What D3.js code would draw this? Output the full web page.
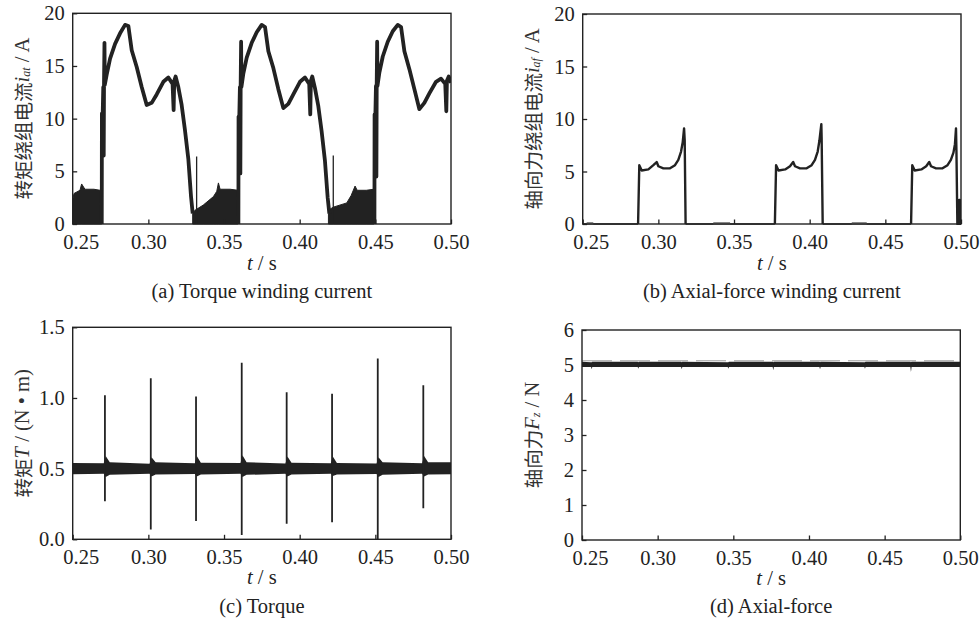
<!DOCTYPE html>
<html>
<head>
<meta charset="utf-8">
<script src="https://cdnjs.cloudflare.com/ajax/libs/d3/7.8.5/d3.min.js"></script>
<style>
body { margin: 0; background: #fff; }
</style>
</head>
<body>
<script>
var W = 980, H = 622;
var serif = "'Liberation Serif', 'Times New Roman', serif";
var cjk = "'Noto Sans CJK SC', sans-serif";
var ink = "#222";

// shared x ticks
var xTicks = [0.25, 0.30, 0.35, 0.40, 0.45, 0.50];

// (a) torque winding current, chopping regions (top envelope) and main waveform
var aChop1 = [[0.2500,2.3],[0.2509,2.9],[0.2548,3.2],[0.2559,3.8],[0.2581,3.3],[0.2640,3.3],[0.2681,3.2],[0.2692,3.3]];
var aChop2 = [[0.3293,1.0],[0.3308,1.3],[0.3363,1.8],[0.3430,2.6],[0.3452,3.1],[0.3463,3.9],[0.3474,3.3],[0.3540,3.3],[0.3592,3.2]];
var aChop3 = [[0.4190,1.0],[0.4200,1.4],[0.4222,1.6],[0.4311,2.0],[0.4340,2.7],[0.4366,3.6],[0.4380,3.2],[0.4440,3.2],[0.4491,3.3]];
var aCycle1 = [[0.2692,0],[0.2693,10.5],[0.2697,9.6],[0.2702,13.0],[0.2705,6.5],[0.2707,13.5],[0.2710,17.2],[0.2712,13.2],
  [0.2725,14.2],[0.2747,15.7],[0.2780,17.1],[0.2813,18.1],[0.2846,18.9],[0.2868,18.8],[0.2890,16.5],[0.2923,14.9],
  [0.2956,13.0],[0.2989,11.3],[0.3022,11.5],[0.3055,12.3],[0.3099,13.5],[0.3132,13.9],[0.3160,13.3],[0.3167,10.8],
  [0.3171,13.6],[0.3180,14.0],[0.3198,13.0],[0.3220,11.3],[0.3242,8.9],[0.3264,6.2],[0.3282,2.6],[0.3293,1.0]];
var aCycle2 = [[0.3595,0],[0.3596,10.2],[0.3600,9.5],[0.3605,13.0],[0.3608,4.8],[0.3610,13.2],[0.3613,17.3],[0.3615,13.0],
  [0.3628,14.3],[0.3650,15.8],[0.3683,17.2],[0.3716,18.2],[0.3749,18.9],[0.3771,18.7],[0.3793,16.4],[0.3826,14.8],
  [0.3859,12.8],[0.3892,11.0],[0.3925,11.4],[0.3958,12.3],[0.4002,13.5],[0.4035,13.9],[0.4063,13.3],[0.4070,10.4],
  [0.4074,13.6],[0.4083,14.0],[0.4101,12.9],[0.4123,11.2],[0.4145,8.8],[0.4167,6.0],[0.4185,2.5],[0.4196,1.0]];
var aCycle3 = [[0.4494,0],[0.4495,10.4],[0.4499,9.4],[0.4504,13.1],[0.4507,4.5],[0.4509,13.3],[0.4512,17.3],[0.4514,13.1],
  [0.4527,14.4],[0.4549,15.9],[0.4582,17.3],[0.4615,18.3],[0.4648,18.9],[0.4670,18.7],[0.4692,16.4],[0.4725,14.7],
  [0.4758,12.8],[0.4791,10.9],[0.4824,11.5],[0.4857,12.4],[0.4901,13.5],[0.4934,13.8],[0.4962,13.3],[0.4969,10.7],
  [0.4973,13.6],[0.4985,14.0],[0.5000,13.4]];
var aSpikes = [[0.3319,6.4],[0.4222,6.5]];

// (b) axial-force winding current pulses
var bPulse1 = [[0.2866,0],[0.2874,5.6],[0.2890,5.1],[0.2934,5.2],[0.2967,5.6],[0.2989,5.9],[0.3000,5.5],[0.3033,5.3],
  [0.3077,5.3],[0.3110,5.6],[0.3132,6.1],[0.3150,6.9],[0.3161,7.8],[0.3170,9.1],[0.3174,8.0],[0.3180,0]];
var bPulse2 = [[0.3770,0],[0.3778,5.6],[0.3794,5.1],[0.3838,5.2],[0.3870,5.5],[0.3891,5.9],[0.3903,5.5],[0.3936,5.3],
  [0.3980,5.3],[0.4013,5.6],[0.4035,6.1],[0.4053,6.9],[0.4064,7.9],[0.4077,9.5],[0.4079,8.2],[0.4086,0]];
var bPulse3 = [[0.4670,0],[0.4678,5.6],[0.4694,5.1],[0.4738,5.2],[0.4770,5.5],[0.4790,5.9],[0.4802,5.5],[0.4835,5.3],
  [0.4878,5.3],[0.4911,5.6],[0.4933,6.1],[0.4950,6.8],[0.4960,7.6],[0.4967,9.1],[0.4970,6.8],[0.4976,0],
  [0.4986,0],[0.4988,2.3],[0.4993,2.3],[0.4995,0],[0.5000,0]];
var bZero = [[0.2500,0.2866],[0.3180,0.3770],[0.4086,0.4670]];
var bZeroNoise = [[0.2526,0.2570],[0.3363,0.3474],[0.4278,0.4377]];

// (c) torque band envelope and switching spikes
var cBandT  = [0.2500,0.2705,0.2718,0.2745,0.3008,0.3021,0.3048,0.3307,0.3320,0.3347,0.3609,0.3622,0.3649,
  0.3906,0.3919,0.3946,0.4206,0.4219,0.4246,0.4508,0.4521,0.4548,0.4809,0.4822,0.4849,0.5000];
var cBandHi = [0.540,0.538,0.590,0.545,0.535,0.580,0.545,0.538,0.590,0.542,0.540,0.595,0.545,
  0.536,0.585,0.542,0.538,0.585,0.540,0.536,0.580,0.545,0.538,0.590,0.545,0.545];
var cBandLo = [0.460,0.463,0.440,0.456,0.463,0.445,0.458,0.462,0.445,0.458,0.463,0.440,0.456,
  0.464,0.445,0.458,0.463,0.448,0.458,0.462,0.440,0.456,0.463,0.445,0.458,0.460];
var cSpikeT  = [0.2713,0.3016,0.3315,0.3617,0.3914,0.4214,0.4516,0.4817];
var cSpikeHi = [1.02,1.14,1.01,1.25,1.04,1.03,1.28,1.09];
var cSpikeLo = [0.27,0.07,0.13,0.03,0.11,0.12,0.00,0.22];

// (d) axial force band envelope
var dBandT  = [0.2500,0.2560,0.2564,0.2568,0.2868,0.2872,0.2876,0.3155,0.3159,0.3163,0.3463,0.3467,0.3471,
  0.3760,0.3764,0.3768,0.4069,0.4073,0.4077,0.4366,0.4370,0.4374,0.4670,0.4674,0.4678,0.5000];
var dBandHi = [5.09,5.08,5.08,5.09,5.09,5.08,5.09,5.09,5.08,5.09,5.08,5.08,5.09,
  5.09,5.08,5.09,5.09,5.08,5.09,5.08,5.08,5.09,5.09,5.08,5.09,5.09];
var dBandLo = [4.94,4.94,4.88,4.94,4.94,4.89,4.94,4.94,4.88,4.94,4.94,4.89,4.94,
  4.94,4.85,4.94,4.94,4.88,4.94,4.94,4.89,4.94,4.94,4.80,4.94,4.94];

var svg = d3.select("body").append("svg").attr("width", W).attr("height", H);

var panels = [
  {id:"a", x0:72.7, x1:451, y0:13.3, y1:224, yDomain:[0,20], yTicks:[0,5,10,15,20], fmt:d3.format("d"),
   labelX:22, caption:"(a) Torque winding current", tLabelY:270, capY:298},
  {id:"b", x0:582.7, x1:961, y0:14, y1:224, yDomain:[0,20], yTicks:[0,5,10,15,20], fmt:d3.format("d"),
   labelX:532, caption:"(b) Axial-force winding current", tLabelY:270, capY:298},
  {id:"c", x0:72.7, x1:451, y0:327.3, y1:539.3, yDomain:[0,1.5], yTicks:[0,0.5,1.0,1.5], fmt:d3.format(".1f"),
   labelX:22, caption:"(c) Torque", tLabelY:584, capY:613},
  {id:"d", x0:582, x1:960.3, y0:330, y1:540, yDomain:[0,6], yTicks:[0,1,2,3,4,5,6], fmt:d3.format("d"),
   labelX:532, caption:"(d) Axial-force", tLabelY:585, capY:613}
];

var defs = svg.append("defs");

function makePanel(p) {
  var g = svg.append("g").attr("class", "panel-" + p.id);
  p.x = d3.scaleLinear().domain([0.25, 0.50]).range([p.x0, p.x1]);
  p.y = d3.scaleLinear().domain(p.yDomain).range([p.y1, p.y0]);
  defs.append("clipPath").attr("id", "clip-" + p.id)
    .append("rect").attr("x", p.x0).attr("y", p.y0 - 1)
    .attr("width", p.x1 - p.x0).attr("height", p.y1 - p.y0 + 2);
  p.plot = g.append("g").attr("clip-path", "url(#clip-" + p.id + ")");

  var xa = g.append("g").attr("transform", "translate(0," + p.y1 + ")")
    .call(d3.axisBottom(p.x).tickValues(xTicks).tickFormat(d3.format(".2f"))
      .tickSize(-4.5).tickSizeOuter(0).tickPadding(10.5));
  var ya = g.append("g").attr("transform", "translate(" + p.x0 + ",0)")
    .call(d3.axisLeft(p.y).tickValues(p.yTicks).tickFormat(p.fmt)
      .tickSize(-4.5).tickSizeOuter(0).tickPadding(8));
  [xa, ya].forEach(function(a) {
    a.select(".domain").remove();
    a.attr("font-family", null).attr("font-size", null);
    a.selectAll("line").attr("stroke", ink).attr("stroke-width", 1.3);
    a.selectAll("text").attr("fill", ink)
      .style("font-family", serif).style("font-size", "20.5px");
  });
  xa.selectAll(".tick text").filter(function(d) { return d === 0.25; }).attr("dx", 8);

  p.frame = g;
  // x label
  var tl = g.append("text").attr("x", (p.x0 + p.x1) / 2).attr("y", p.tLabelY)
    .attr("text-anchor", "middle").style("font-family", serif).style("font-size", "20.5px").attr("fill", ink);
  tl.append("tspan").attr("font-style", "italic").text("t");
  tl.append("tspan").text(" / s");
  // caption
  g.append("text").attr("x", (p.x0 + p.x1) / 2).attr("y", p.capY)
    .attr("text-anchor", "middle").style("font-family", serif).style("font-size", "20.5px").attr("fill", ink)
    .text(p.caption);
  return p;
}

function drawFrame(p) {
  p.frame.append("rect").attr("x", p.x0).attr("y", p.y0)
    .attr("width", p.x1 - p.x0).attr("height", p.y1 - p.y0)
    .attr("fill", "none").attr("stroke", ink).attr("stroke-width", 1.4);
}

function yLabel(p, parts) {
  var t = p.frame.append("text")
    .attr("transform", "translate(" + p.labelX + "," + ((p.y0 + p.y1) / 2) + ") rotate(-90)")
    .attr("text-anchor", "middle").attr("dominant-baseline", "central")
    .style("font-family", serif).style("font-size", "20.5px").attr("fill", "#333");
  parts.forEach(function(s) {
    var ts = t.append("tspan").text(s.text);
    if (s.cjk) ts.style("font-family", cjk).style("font-size", "19.5px");
    if (s.it) ts.attr("font-style", "italic");
    if (s.sub) ts.style("font-size", "12px").attr("dy", s.sub);
    if (s.dy) ts.attr("dy", s.dy);
  });
}

panels.forEach(makePanel);
var pa = panels[0], pb = panels[1], pc = panels[2], pd = panels[3];

// ---- (a)
var aArea = d3.area().x(function(d) { return pa.x(d[0]); }).y0(pa.y(0)).y1(function(d) { return pa.y(d[1]); });
var aLine = d3.line().x(function(d) { return pa.x(d[0]); }).y(function(d) { return pa.y(d[1]); });
[aChop1, aChop2, aChop3].forEach(function(c) {
  pa.plot.append("path").datum(c).attr("d", aArea).attr("fill", ink).attr("stroke", ink).attr("stroke-width", 1);
});
[aCycle1, aCycle2, aCycle3].forEach(function(c) {
  pa.plot.append("path").datum(c).attr("d", aLine).attr("fill", "none")
    .attr("stroke", ink).attr("stroke-width", 3.8).attr("stroke-linejoin", "round");
});
pa.plot.selectAll("line.spk").data(aSpikes).enter().append("line")
  .attr("x1", function(d) { return pa.x(d[0]); }).attr("x2", function(d) { return pa.x(d[0]); })
  .attr("y1", pa.y(0)).attr("y2", function(d) { return pa.y(d[1]); })
  .attr("stroke", ink).attr("stroke-width", 1.3);

// ---- (b)
var bLine = d3.line().x(function(d) { return pb.x(d[0]); }).y(function(d) { return pb.y(d[1]); });
pb.plot.selectAll("line.zero").data(bZero).enter().append("line")
  .attr("x1", function(d) { return pb.x(d[0]); }).attr("x2", function(d) { return pb.x(d[1]); })
  .attr("y1", pb.y(0)).attr("y2", pb.y(0)).attr("stroke", ink).attr("stroke-width", 1.5);
pb.plot.selectAll("line.noise").data(bZeroNoise).enter().append("line")
  .attr("x1", function(d) { return pb.x(d[0]); }).attr("x2", function(d) { return pb.x(d[1]); })
  .attr("y1", pb.y(0) - 0.5).attr("y2", pb.y(0) - 0.5).attr("stroke", "#888").attr("stroke-width", 3);
[bPulse1, bPulse2, bPulse3].forEach(function(c) {
  pb.plot.append("path").datum(c).attr("d", bLine).attr("fill", "none")
    .attr("stroke", ink).attr("stroke-width", 2.4).attr("stroke-linejoin", "round");
});

// ---- (c)
var cArea = d3.area().x(function(d, i) { return pc.x(cBandT[i]); })
  .y0(function(d, i) { return pc.y(cBandLo[i]); }).y1(function(d, i) { return pc.y(cBandHi[i]); });
pc.plot.append("path").datum(cBandT).attr("d", cArea).attr("fill", ink);
pc.plot.selectAll("line.spk").data(cSpikeT).enter().append("line")
  .attr("x1", function(d) { return pc.x(d); }).attr("x2", function(d) { return pc.x(d); })
  .attr("y1", function(d, i) { return pc.y(cSpikeLo[i]); }).attr("y2", function(d, i) { return pc.y(cSpikeHi[i]); })
  .attr("stroke", ink).attr("stroke-width", 1.8);

// ---- (d)
var dArea = d3.area().x(function(d, i) { return pd.x(dBandT[i]); })
  .y0(function(d, i) { return pd.y(dBandLo[i]); }).y1(function(d, i) { return pd.y(dBandHi[i]); });
pd.plot.append("line").attr("x1", pd.x(0.25)).attr("x2", pd.x(0.50))
  .attr("y1", pd.y(5.12)).attr("y2", pd.y(5.12))
  .attr("stroke", "#999").attr("stroke-width", 1).attr("stroke-dasharray", "30,8");
pd.plot.append("path").datum(dBandT).attr("d", dArea).attr("fill", ink);

panels.forEach(drawFrame);

yLabel(pa, [{text:"转矩绕组电流", cjk:true}, {text:"i", it:true}, {text:"at", it:true, sub:4}, {text:" / A", dy:-4}]);
yLabel(pb, [{text:"轴向力绕组电流", cjk:true}, {text:"i", it:true}, {text:"af", it:true, sub:4}, {text:" / A", dy:-4}]);
yLabel(pc, [{text:"转矩", cjk:true}, {text:"T", it:true}, {text:" / (N • m)"}]);
yLabel(pd, [{text:"轴向力", cjk:true}, {text:"F", it:true}, {text:"z", it:true, sub:4}, {text:" / N", dy:-4}]);
</script>
</body>
</html>
